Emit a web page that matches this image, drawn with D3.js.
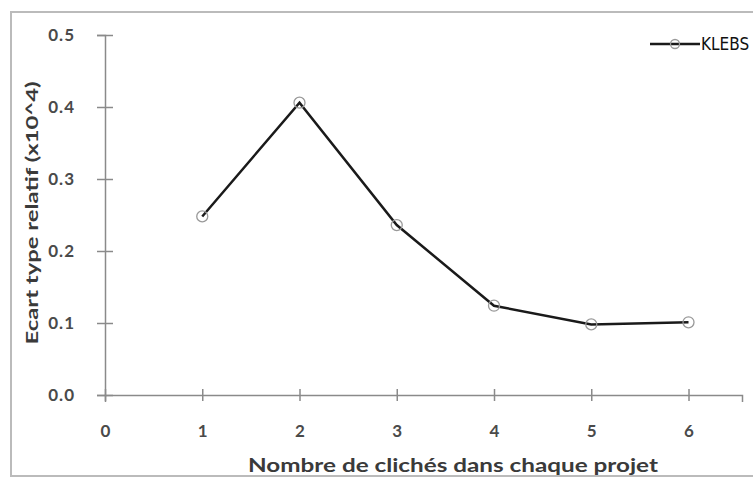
<!DOCTYPE html>
<html><head><meta charset="utf-8">
<script src="https://cdn.jsdelivr.net/npm/d3@7"></script>
<style>body{margin:0;background:#fff}svg{display:block}</style>
</head><body>
<svg id="c" width="753" height="477"></svg>
<script>
const xValues = [1, 2, 3, 4, 5, 6];
const yValues = [0.248, 0.406, 0.236, 0.124, 0.098, 0.101];
const xTicks = [0, 1, 2, 3, 4, 5, 6];
const yTicks = [0.0, 0.1, 0.2, 0.3, 0.4, 0.5];
const seriesName = "KLEBS";
const xTitle = "Nombre de clichés dans chaque projet";
const yTitle = "Ecart type relatif (x10^4)";

const svg = d3.select("#c");
// frame
svg.append("rect").attr("x", 11).attr("y", 12).attr("width", 800).attr("height", 464)
  .attr("fill", "#fff").attr("stroke", "#bbb").attr("stroke-width", 2);

const x = d3.scaleLinear().domain([0, 6.55]).range([105, 742]);
const y = d3.scaleLinear().domain([0, 0.5]).range([395, 35]);

const font = "Lato, 'Open Sans', sans-serif";
const axisColor = "#8a8a8a";

// y axis
const gy = svg.append("g").attr("transform", `translate(${x(0)},0)`)
  .call(d3.axisLeft(y).tickValues(yTicks).tickFormat(d3.format(".1f")).tickSizeOuter(0).tickSize(8).tickPadding(22));
gy.select(".domain").attr("stroke", axisColor).attr("stroke-width", 1.5);
gy.selectAll(".tick line").attr("stroke", axisColor).attr("stroke-width", 1.5).attr("x2", 8).attr("x1", -8);
gy.selectAll(".tick text").attr("fill", "#4a4a4a").attr("font-family", font).attr("font-weight", "bold").attr("font-size", 17)
  .attr("letter-spacing", 1);

// x axis
const gx = svg.append("g").attr("transform", `translate(0,${y(0)})`)
  .call(d3.axisBottom(x).tickValues(xTicks).tickFormat(d3.format("d")).tickSizeOuter(0).tickSize(7).tickPadding(26));
gx.select(".domain").attr("stroke", axisColor).attr("stroke-width", 1.5);
gx.selectAll(".tick line").attr("stroke", axisColor).attr("stroke-width", 1.5).attr("y1", -6).attr("y2", 6);
gx.selectAll(".tick text").attr("fill", "#4a4a4a").attr("font-family", font).attr("font-weight", "bold").attr("font-size", 17)
  .attr("dy", "0.35em").attr("y", 36);

// titles
svg.append("text").attr("x", 453).attr("y", 472).attr("text-anchor", "middle")
  .attr("font-family", font).attr("font-weight", "bold").attr("font-size", 18).attr("fill", "#3a3a3a")
  .attr("textLength", 410).attr("lengthAdjust", "spacingAndGlyphs")
  .text(xTitle);
svg.append("text").attr("transform", "translate(38,213) rotate(-90)").attr("text-anchor", "middle")
  .attr("font-family", font).attr("font-weight", "bold").attr("font-size", 17.5).attr("fill", "#3a3a3a")
  .attr("textLength", 263).attr("lengthAdjust", "spacingAndGlyphs")
  .text(yTitle);

// line
const data = xValues.map((v, i) => [v, yValues[i]]);
svg.append("path").datum(data)
  .attr("d", d3.line().x(d => x(d[0])).y(d => y(d[1])))
  .attr("fill", "none").attr("stroke", "#1a1a1a").attr("stroke-width", 2.5);
svg.selectAll("circle.pt").data(data).join("circle").attr("class", "pt")
  .attr("cx", d => x(d[0])).attr("cy", d => y(d[1])).attr("r", 5.5)
  .attr("fill", "none").attr("stroke", "#999").attr("stroke-width", 1.3);

// legend
svg.append("line").attr("x1", 650).attr("x2", 700).attr("y1", 44).attr("y2", 44)
  .attr("stroke", "#1a1a1a").attr("stroke-width", 2.5);
svg.append("circle").attr("cx", 675).attr("cy", 44).attr("r", 4.5)
  .attr("fill", "none").attr("stroke", "#999").attr("stroke-width", 1.3);
svg.append("text").attr("x", 701).attr("y", 50)
  .attr("font-family", "'Liberation Sans Narrow', 'DejaVu Sans Condensed', sans-serif").attr("font-size", 17)
  .attr("fill", "#111").text(seriesName);
</script>
</body></html>
